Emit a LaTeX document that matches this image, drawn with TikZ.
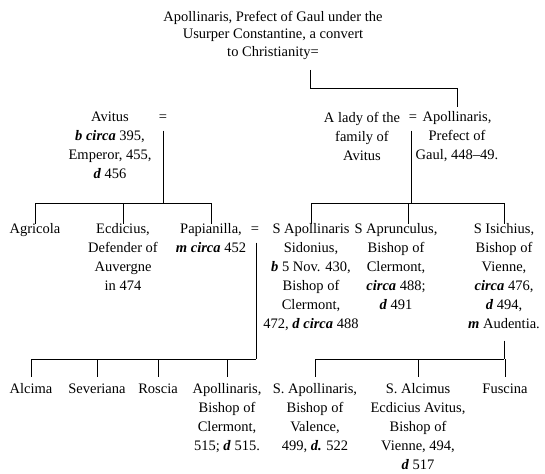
\documentclass[tikz,border=0pt]{standalone}
\usepackage{fontspec}
\setmainfont{Liberation Serif}
\newcommand{\yr}[1]{\oldstylenums{#1}}
\newcommand{\ita}[1]{\textbf{\itshape #1}}
\tikzset{
	person/.style={align=center,anchor=north,inner sep=0pt,font=\fontsize{14.5}{19}\selectfont},
	marr/.style={inner sep=0pt,font=\fontsize{14.5}{19}\selectfont}
}
\begin{document}
\begin{tikzpicture}[x=1pt,y=-1pt,line width=0.8pt]
		\useasboundingbox (0,0) rectangle (545,473);
		\node[person,font=\fontsize{14.5}{17.5}\selectfont] (apo) at (273,10.5) {Apollinaris, Prefect of Gaul under the\\Usurper Constantine, a convert\\to Christianity=};
		\coordinate (c0) at (310,70);
		% second generation
		\node[person] (avi) at (110,111.5) {Avitus\\\ita{b circa} \yr{395},\\Emperor, \yr{455},\\\ita{d} \yr{456}};
		\node[marr] (eqav) at (163,118) {=};
		\node[person] (lady) at (362,111.5) {A lady of the\\family of\\Avitus};
		\node[marr] (eqla) at (413,118) {=};
		\node[person] (apg) at (457,111.5) {Apollinaris,\\Prefect of\\Gaul, \yr{448}--\yr{49}.};
		% third generation
		\node[person] (agr) at (35,223.5) {Agricola};
		\node[person] (ecd) at (123,223.5) {Ecdicius,\\Defender of\\Auvergne\\in \yr{474}};
		\node[person] (pap) at (211,223.5) {Papianilla,\\\ita{m circa} \yr{452}};
		\node[marr] (eqpa) at (255,230) {=};
		\node[person] (sid) at (311,223.5) {S Apollinaris\\Sidonius,\\\ita{b} \yr{5} Nov. \yr{430},\\Bishop of\\Clermont,\\\yr{472}, \ita{d circa} \yr{488}};
		\node[person] (apr) at (396,223.5) {S Aprunculus,\\Bishop of\\Clermont,\\\ita{circa} \yr{488};\\\ita{d} \yr{491}};
		\node[person] (isi) at (504,223.5) {S Isichius,\\Bishop of\\Vienne,\\\ita{circa} \yr{476},\\\ita{d} \yr{494},\\\ita{m} Audentia.};
		% fourth generation
		\node[person] (alc) at (31,383.5) {Alcima};
		\node[person] (sev) at (97,383.5) {Severiana};
		\node[person] (ros) at (158,383.5) {Roscia};
		\node[person] (apc) at (227,383.5) {Apollinaris,\\Bishop of\\Clermont,\\\yr{515}; \ita{d} \yr{515}.};
		\node[person] (apv) at (315,383.5) {S. Apollinaris,\\Bishop of\\Valence,\\\yr{499}, \ita{d.} \yr{522}};
		\node[person] (alm) at (418,383.5) {S. Alcimus\\Ecdicius Avitus,\\Bishop of\\Vienne, \yr{494},\\\ita{d} \yr{517}};
		\node[person] (fus) at (505,383.5) {Fuscina};
		% lines of descent
		\coordinate (barav) at (163,203);
		\coordinate (barla) at (411,203);
		\coordinate (barpa) at (256,359);
		\coordinate (baris) at (504,359);
		\draw[shorten >=4pt] (c0) -- ++(0,18) -| (apg.north);
		\draw[shorten <=9pt] (eqav.south) -- (barav);
		\draw (agr.north |- barav) -- (pap.north |- barav);
		\foreach \n in {agr,ecd,pap}
			\draw (\n.north |- barav) -- (\n.north);
		\draw[shorten <=9pt] (eqla.south -| barla) -- (barla);
		\draw (sid.north |- barla) -- (isi.north |- barla);
		\foreach \n in {sid,isi}
			\draw (\n.north |- barla) -- (\n.north);
		\draw ([xshift=12pt]apr.north |- barla) -- ([xshift=12pt]apr.north);
		\draw[shorten <=9pt] (eqpa.south -| barpa) -- (barpa);
		\draw (alc.north |- barpa) -- (barpa);
		\draw[shorten <=11pt] (isi.south) -- (baris);
		\draw (apv.north |- baris) -- (baris);
		\foreach \n in {alc,sev,ros,apc,apv,alm,fus}
			\draw[shorten >=7pt] (\n.north |- barpa) -- (\n.north);
\end{tikzpicture}
\end{document}
